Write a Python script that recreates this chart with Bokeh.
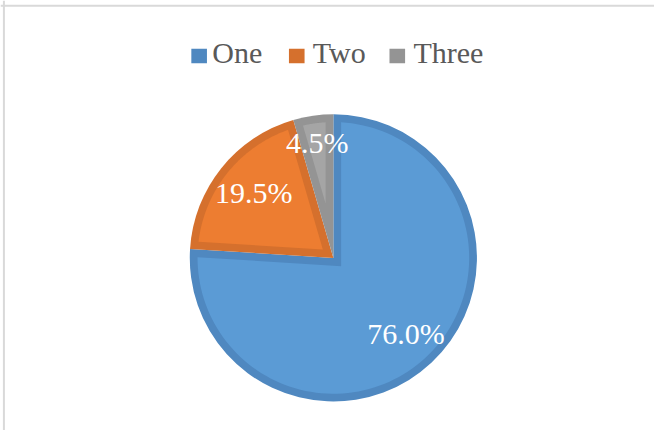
import numpy as np
from bokeh.plotting import figure
from bokeh.models import Range1d, Span
from bokeh.core.properties import value
from bokeh.embed import file_html
from bokeh.resources import INLINE

# ---- data ----
categories = ["One", "Two", "Three"]
shares = [76.0, 19.5, 4.5]
labels = ["76.0%", "19.5%", "4.5%"]
fill_colors = ["#5B9BD5", "#ED7D31", "#A5A5A5"]
band_colors = ["#4F88C0", "#D5702D", "#949494"]

# ---- layout ----
W, H = 654, 430
REF_W, REF_H = 670, 446
SX, SY = W / REF_W, H / REF_H
S = (SX + SY) / 2

def fx(px):
    return px * SX

def fy(py):
    return H - py * SY

cx, cy = fx(341), fy(267)
R = 148 * S
BAND = 8 * S
label_frac = [0.74, 0.71, 0.80]
FONT = value("Liberation Serif")
FSIZE = "30px"

p = figure(width=W, height=H, output_backend="svg", toolbar_location=None,
           x_range=Range1d(0, W), y_range=Range1d(0, H),
           min_border=0, outline_line_color=None)
p.axis.visible = False
p.grid.visible = False
p.background_fill_color = "white"
p.border_fill_color = "white"

# chart frame (left / top edges visible in the reference)
p.add_layout(Span(location=fx(3.5), dimension="height", line_color="#D9D9D9", line_width=2))
p.add_layout(Span(location=fy(5.5), dimension="width", line_color="#D9D9D9", line_width=2))

fr = np.array(shares) / sum(shares)
cum = np.concatenate([[0], np.cumsum(fr)])
start = np.radians(90 - cum[:-1] * 360)   # math angles, clockwise progression
end = np.radians(90 - cum[1:] * 360)

# outer wedges (darker bevel band)
p.wedge(x=[cx] * 3, y=[cy] * 3, radius=R, start_angle=list(end), end_angle=list(start),
        fill_color=band_colors, line_color=None)

def inset_poly(a0, a1):
    half = (a0 - a1) / 2
    bis = a0 - half
    d = BAND / np.sin(half)
    ax, ay = d * np.cos(bis), d * np.sin(bis)
    r_in = R - BAND
    def hit(a):
        ux, uy = np.cos(a), np.sin(a)
        pu = ax * ux + ay * uy
        pp = ax * ax + ay * ay
        t = -pu + np.sqrt(pu * pu - pp + r_in * r_in)
        return np.arctan2(ay + t * uy, ax + t * ux)
    phi0 = hit(a0)
    phi1 = hit(a1)
    while phi1 > phi0:
        phi1 -= 2 * np.pi
    arc = np.linspace(phi0, phi1, 120)
    xs = [cx + ax] + list(cx + r_in * np.cos(arc))
    ys = [cy + ay] + list(cy + r_in * np.sin(arc))
    return xs, ys

xs_list, ys_list = [], []
for a0, a1 in zip(start, end):
    xs, ys = inset_poly(a0, a1)
    xs_list.append(xs)
    ys_list.append(ys)
p.patches(xs=xs_list, ys=ys_list, fill_color=fill_colors, line_color=None)

# data labels
mid = (start + end) / 2
lx = [cx + f * R * np.cos(m) for f, m in zip(label_frac, mid)]
ly = [cy + f * R * np.sin(m) + 2 for f, m in zip(label_frac, mid)]
p.text(x=lx, y=ly, text=labels, text_font=FONT, text_font_size=FSIZE,
       text_color="white", text_align="center", text_baseline="middle")

# legend (manual, centred above the pie)
leg_sq_x = [fx(203.5), fx(303.5), fx(406.5)]
leg_tx_x = [fx(217), fx(320), fx(423)]
p.rect(x=leg_sq_x, y=[fy(57.5)] * 3, width=16 * SX, height=15 * SY,
       fill_color=band_colors, line_color=None)
p.text(x=leg_tx_x, y=[fy(55.5) + 2] * 3, text=categories, text_font=FONT, text_font_size=FSIZE,
       text_color="#595959", text_align="left", text_baseline="middle")

open("out.html", "w").write(file_html(p, INLINE))
